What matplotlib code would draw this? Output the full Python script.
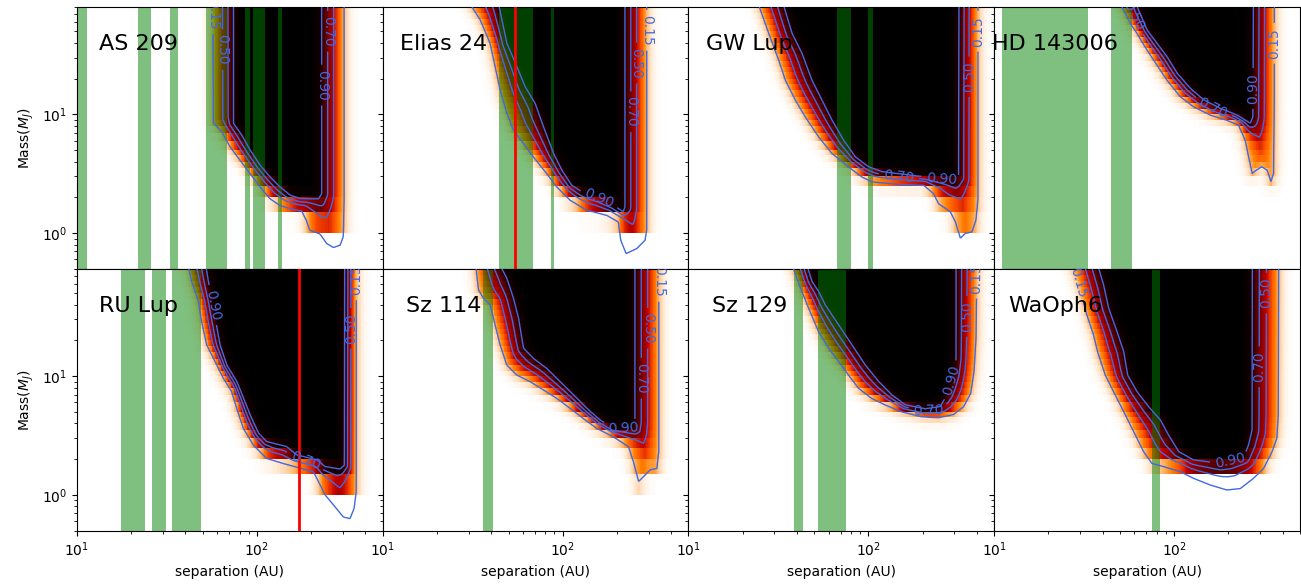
import numpy as np
import matplotlib
matplotlib.use("Agg")
import matplotlib.pyplot as plt
from matplotlib.path import Path

targets = ["AS 209", "Elias 24", "GW Lup", "HD 143006",
           "RU Lup", "Sz 114", "Sz 129", "WaOph6"]

# Detection-completeness boundaries as (separation [AU], mass [M_J]) vertices,
# running from the inner high-mass end, along the low-mass floor, up the outer edge.
as209_c15 = [(56.8, 100), (57.3, 8.48), (63.7, 7.13), (70.9, 5.32), (80.5, 4.11), (91.6, 3.17),
             (104, 2.45), (118, 1.95), (134, 1.71), (159, 1.58), (177, 1.54), (188, 1.28),
             (196, 1.06), (224, 0.98), (244, 0.815), (266, 0.754), (290, 0.79), (302, 0.93),
             (305, 1.89), (305, 100)]
as209_c90 = [(74.0, 100), (74.0, 8.38), (82.2, 6.68), (91.6, 4.99), (104, 3.73), (118, 2.97),
             (134, 2.45), (153, 2.08), (174, 1.95), (220, 1.94), (229, 2.15), (229, 100)]

elias24_c15 = [(28.5, 100), (34.8, 62.3), (39.5, 39.6), (42.1, 25.2), (44.9, 16.0), (48.9, 10.2),
               (53.2, 7.36), (60.5, 5.68), (68.7, 4.38), (81.5, 3.17), (92.6, 2.45), (110, 1.89),
               (136, 1.56), (176, 1.41), (204, 1.24), (210, 0.87), (225, 0.67), (258, 0.74),
               (287, 0.87), (293, 1.06), (293, 100)]
elias24_c90 = [(43.0, 100), (48.9, 39.6), (55.6, 25.2), (61.8, 17.1), (70.3, 12.35), (78.2, 7.85),
               (88.9, 4.68), (98.9, 3.38), (112, 2.53), (130, 2.18), (161, 1.95), (191, 1.71),
               (217, 1.51), (222, 1.66), (222, 100)]

gwlup_c15 = [(23.5, 100), (27.9, 48.1), (31.7, 28.6), (34.5, 19.4), (39.2, 13.2), (44.5, 9.53),
             (52.8, 6.47), (62.7, 4.68), (77.5, 3.61), (92.0, 2.97), (104.5, 2.70), (153, 2.56),
             (203, 2.53), (230, 2.15), (245, 1.77), (285, 1.51), (304, 1.24), (324, 0.90),
             (345, 0.99), (376, 1.02), (396, 1.28), (406, 1.89), (406, 100)]
gwlup_c90 = [(32.5, 100), (37.6, 48.1), (42.7, 32.6), (48.5, 19.4), (55.1, 13.2), (62.7, 8.93),
             (72.7, 6.06), (84.5, 4.38), (100, 3.61), (119, 3.28), (190, 3.01), (304, 2.79),
             (317, 2.97), (319, 100)]

hd143006_c15 = [(47.6, 100), (57.0, 58.4), (62.1, 48.1), (70.6, 34.8), (80.2, 26.0), (91.2, 19.4),
                (108, 14.1), (128, 11.6), (159, 9.85), (196, 8.93), (228, 8.11), (248, 6.06),
                (259, 4.38), (271, 3.17), (286, 3.38), (307, 3.61), (328, 3.38), (345, 2.70),
                (357, 3.17), (360, 13.2), (360, 100)]
hd143006_c90 = [(58.5, 100), (62.1, 80.7), (70.6, 51.3), (80.2, 39.6), (91.2, 30.5), (104, 22.1),
                (123, 16.5), (146, 13.2), (180, 11.2), (223, 9.85), (265, 8.38), (274, 9.53),
                (276, 100)]

rulup_c15 = [(40.5, 100), (43.4, 62.7), (47.3, 42.5), (49.3, 28.8), (52.6, 18.3), (58.5, 13.3),
             (65.1, 9.6), (72.4, 7.41), (77.2, 5.36), (84.1, 3.63), (95.5, 2.63), (113, 2.03),
             (140, 1.84), (206, 1.57), (220, 1.29), (239, 1.0), (272, 0.79), (302, 0.65),
             (329, 0.63), (347, 0.77), (356, 1.06), (356, 100)]
rulup_c90 = [(51.0, 100), (54.8, 51.6), (58.5, 30.8), (62.3, 18.3), (67.9, 12.4), (77.2, 8.99),
             (84.1, 6.51), (91.6, 4.71), (102, 3.30), (113, 2.81), (146, 2.55), (166, 2.17),
             (215, 1.97), (239, 1.73), (290, 1.65), (306, 1.78), (308, 100)]

sz114_c15 = [(32.5, 100), (34.0, 53.3), (36.2, 45.4), (39.5, 39.8), (42.1, 27.0), (44.9, 18.3),
             (48.9, 12.4), (55.6, 10.2), (65.9, 8.99), (78.2, 7.65), (92.6, 6.51), (110, 5.36),
             (130, 4.41), (155, 3.63), (191, 3.09), (232, 2.55), (247, 1.90), (264, 1.29),
             (281, 1.42), (306, 1.62), (334, 1.67), (342, 2.31), (342, 100)]
sz114_c90 = [(42.5, 100), (48.9, 66.8), (53.2, 45.4), (56.8, 30.8), (60.5, 17.2), (68.7, 14.1),
             (81.5, 11.6), (96.6, 8.99), (115, 6.94), (136, 5.36), (161, 4.27), (191, 3.63),
             (247, 3.59), (252, 4.14), (252, 100)]

sz129_c15 = [(36.5, 100), (40.0, 66.8), (42.7, 51.6), (46.5, 37.4), (52.8, 23.7), (60.0, 17.2),
             (68.2, 13.3), (77.5, 10.2), (88.1, 7.9), (104, 6.51), (124, 5.72), (153, 5.02),
             (198, 4.56), (245, 4.47), (297, 4.76), (338, 5.53), (370, 7.17), (386, 10.9),
             (396, 20.9), (401, 100)]
sz129_c90 = [(44.0, 100), (48.5, 62.7), (52.8, 51.6), (57.5, 39.8), (68.2, 27.0), (81.0, 18.3),
             (96.0, 12.4), (114, 8.99), (135, 6.94), (160, 5.72), (207, 5.29), (251, 5.53),
             (273, 6.94), (298, 10.2), (307, 14.1), (307, 100)]

waoph6_c15 = [(26.5, 100), (30.1, 51.6), (32.7, 32.8), (35.6, 22.3), (37.5, 16.1), (41.4, 10.2),
              (46.0, 7.41), (52.4, 5.02), (59.5, 3.41), (67.6, 2.31), (75.2, 1.84), (87.3, 1.73),
              (108, 1.57), (128, 1.38), (159, 1.21), (196, 1.10), (233, 1.13), (276, 1.38),
              (314, 1.67), (350, 2.31), (372, 2.99), (379, 4.71), (381, 100)]
waoph6_c90 = [(36.5, 100), (40.5, 58.7), (43.2, 37.4), (48.1, 23.7), (52.4, 16.1), (55.1, 10.2),
              (62.1, 7.41), (72.1, 5.53), (83.8, 4.27), (93.1, 3.19), (106, 2.31), (128, 1.97),
              (180, 1.84), (243, 2.06), (259, 2.63), (271, 3.52), (272, 100)]

# Separation ranges covered by disc gaps/rings (AU)
as209_gaps = [(8, 11.4), (21.9, 25.7), (32.9, 36.6), (52.1, 68.5), (85.9, 91.6),
              (95.5, 110.9), (131.5, 138.4)]
elias24_gaps = [(44.5, 68.2), (86.2, 89.1)]
gwlup_gaps = [(67.1, 80.2), (99.7, 105.5)]
hd143006_gaps = [(11.1, 33.2), (44.5, 58.0)]
rulup_gaps = [(17.6, 23.9), (26.1, 31.1), (33.7, 49.1)]
sz114_gaps = [(36.2, 41.2)]
sz129_gaps = [(38.7, 43.2), (52.4, 75.3)]
waoph6_gaps = [(75.2, 83.4)]

# Separations of candidate companions (AU)
elias24_candidates = [54.2]
rulup_candidates = [171]

# Lowest mass of the simulated grid shown in the map (M_J)
map_mass_floor = [1.0, 1.0, 1.0, 1.0, 1.0, 1.0, 1.0, 1.5]

# Simulated mass grid (M_J)
map_mass_edges = np.array([1.0, 1.5, 2.0, 2.5, 3.0, 3.5, 4.0, 4.5, 5.0, 6.0, 7.0, 8.0, 9.0,
                           10, 11, 12.5, 14, 16, 18, 20, 22.5, 25, 28, 32, 36, 40, 45, 50,
                           56, 63, 71, 80])

levels = [0.15, 0.50, 0.70, 0.90]

c15_sets = [as209_c15, elias24_c15, gwlup_c15, hd143006_c15,
            rulup_c15, sz114_c15, sz129_c15, waoph6_c15]
c90_sets = [as209_c90, elias24_c90, gwlup_c90, hd143006_c90,
            rulup_c90, sz114_c90, sz129_c90, waoph6_c90]
gap_sets = [as209_gaps, elias24_gaps, gwlup_gaps, hd143006_gaps,
            rulup_gaps, sz114_gaps, sz129_gaps, waoph6_gaps]
cand_sets = [[], elias24_candidates, [], [], rulup_candidates, [], [], []]

# Contour label anchors: (level, separation AU, mass M_J)
label_spots = [
    [(0.15, 57, 70), (0.50, 65, 35), (0.70, 266, 50), (0.90, 232, 17.6)],
    [(0.15, 300, 51), (0.50, 252, 27), (0.70, 237, 10.5), (0.90, 158, 1.88)],
    [(0.15, 409, 50), (0.50, 363, 20.7), (0.70, 147, 2.89), (0.90, 254, 2.74)],
    [(0.15, 365, 39.6), (0.90, 276, 16.5), (0.50, 58, 66), (0.70, 159, 10.2)],
    [(0.90, 57.3, 39.8), (0.15, 358, 64.7), (0.50, 341, 25.3), (0.70, 185, 1.9)],
    [(0.15, 345, 62.7), (0.50, 289, 25.3), (0.70, 271, 9.6), (0.90, 216, 3.53)],
    [(0.15, 406, 66.8), (0.50, 368, 31.8), (0.90, 285, 9.3), (0.70, 216, 5.0)],
    [(0.15, 29.0, 60.7), (0.50, 314, 50), (0.70, 291, 12.0), (0.90, 207, 1.78)],
]

XLIM = (10, 500)
YLIM = (0.5, 80)

# Scale factors turning decades into display-like units, so that the
# boundary distance is isotropic on the page
UX, UY = 179.9, 118.6


def _closed_vertices(curve):
    c = np.asarray(curve, dtype=float)
    u = np.log10(c[:, 0]) * UX
    v = np.log10(c[:, 1]) * UY
    top = np.log10(1000.0) * UY
    u = np.concatenate([u, [u[-1], u[0], u[0]]])
    v = np.concatenate([v, [top, top, v[0]]])
    return np.column_stack([u, v])


def _signed_distance(curve, pts):
    verts = _closed_vertices(curve)
    d = np.full(len(pts), np.inf)
    for (x0, y0), (x1, y1) in zip(verts[:-1], verts[1:]):
        dx, dy = x1 - x0, y1 - y0
        L2 = dx * dx + dy * dy
        if L2 == 0:
            continue
        t = np.clip(((pts[:, 0] - x0) * dx + (pts[:, 1] - y0) * dy) / L2, 0, 1)
        d = np.minimum(d, np.hypot(pts[:, 0] - x0 - t * dx, pts[:, 1] - y0 - t * dy))
    inside = Path(verts).contains_points(pts)
    return np.where(inside, d, -d)


def completeness(c15, c90, sep, mass):
    S, M = np.meshgrid(sep, mass)
    pts = np.column_stack([np.log10(S).ravel() * UX, np.log10(M).ravel() * UY])
    d15 = _signed_distance(c15, pts)
    d90 = _signed_distance(c90, pts)
    P = np.empty_like(d15)
    out = d15 < 0
    inn = d90 > 0
    mid = ~out & ~inn
    t = d15[mid] / np.maximum(d15[mid] - d90[mid], 1e-9)
    P[mid] = 0.15 + 0.75 * t
    P[out] = 0.15 * np.exp(d15[out] / 4.0)
    P[inn] = 1.0 - 0.10 * np.exp(-d90[inn] / 4.0)
    return P.reshape(S.shape)


sep_fine = np.logspace(np.log10(XLIM[0]), np.log10(XLIM[1]), 360)
mass_fine = np.logspace(np.log10(YLIM[0]), np.log10(YLIM[1]), 300)
map_sep_edges = np.logspace(np.log10(XLIM[0]), np.log10(XLIM[1]), 401)

fig, axes = plt.subplots(2, 4, figsize=(13.01, 5.84), dpi=100, sharex=True, sharey=True)
fig.subplots_adjust(left=0.0592, right=0.9992, bottom=0.0913, top=0.988,
                    wspace=0, hspace=0)

for i, ax in enumerate(axes.flat):
    c15, c90 = c15_sets[i], c90_sets[i]

    medges = map_mass_edges[map_mass_edges >= map_mass_floor[i] - 1e-9]
    mcent = np.sqrt(medges[:-1] * medges[1:])
    scent = np.sqrt(map_sep_edges[:-1] * map_sep_edges[1:])
    Pmap = completeness(c15, c90, scent, mcent)
    ax.pcolormesh(map_sep_edges, medges, Pmap, cmap="gist_heat_r", vmin=0, vmax=1,
                  shading="flat", zorder=1, rasterized=True)

    for lo, hi in gap_sets[i]:
        ax.axvspan(lo, hi, color="green", alpha=0.5, lw=0, zorder=2)

    ax.set_xscale("log")
    ax.set_yscale("log")
    ax.set_xlim(*XLIM)
    ax.set_ylim(*YLIM)

    Pfine = completeness(c15, c90, sep_fine, mass_fine)
    spots = {lev: (xs, ys) for lev, xs, ys in label_spots[i]}
    for lev in levels:
        cs = ax.contour(sep_fine, mass_fine, Pfine, levels=[lev], colors="royalblue",
                        linewidths=1.0, zorder=3)
        if lev in spots:
            ax.clabel(cs, fmt="%.2f", fontsize=10, inline=True, manual=[spots[lev]])

    for s in cand_sets[i]:
        ax.axvline(s, color="red", lw=2, zorder=4)

    ax.text(0.2, 0.835, targets[i], transform=ax.transAxes, fontsize=16,
            ha="center", va="baseline", zorder=5)

    ax.yaxis.set_ticks_position("both")
    ax.tick_params(which="both", direction="out")

    if i % 4 == 0:
        ax.set_ylabel(r"Mass($M_J$)")
    if i >= 4:
        ax.set_xlabel("separation (AU)")

fig.savefig("out.png", dpi=100)
